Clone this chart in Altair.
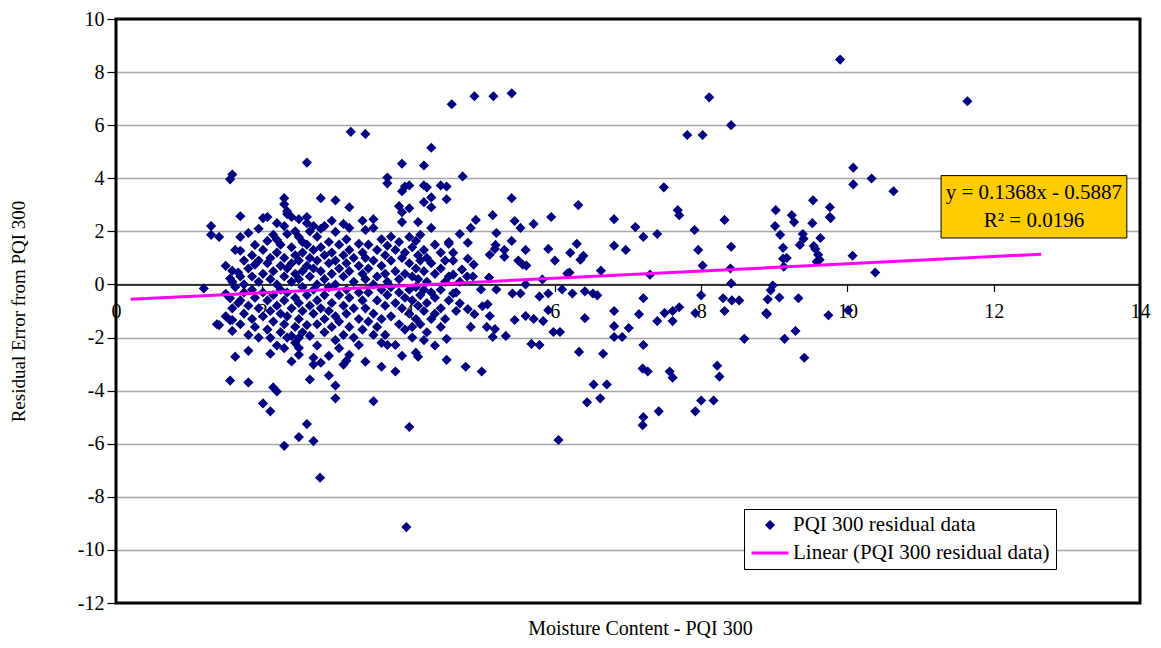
import altair as alt
import pandas as pd

# Residuals, grouped by moisture content
residuals_by_moisture = {
    1.20: [-0.15],
    1.30: [2.2, 1.87],
    1.38: [-1.5],
    1.41: [1.79, -1.53],
    1.50: [0.7, -0.35, -1.2],
    1.56: [3.96, 0.22, -0.52, -1.35, -3.62],
    1.59: [4.14, 0.52, 0.1, -0.9, -1.34, -1.75],
    1.63: [1.3, -0.1, -2.72],
    1.67: [0.45, -0.7],
    1.70: [2.57, 1.79, 1.27, 0.3, -0.6, -1.5],
    1.75: [0.9, 0.0, -0.3, -1.1],
    1.81: [1.94, 0.6, -0.8, -1.9, -2.5, -3.69],
    1.86: [1.1, 0.3, -0.2, -1.3],
    1.90: [1.49, 0.75, -0.5, -1.6],
    1.95: [2.1, 0.9, 0.1, -0.9, -2.0],
    2.01: [2.5, 1.3, 0.4, -0.3, -1.2, -4.48],
    2.07: [2.54, 1.64, 0.8, -0.6, -1.7],
    2.11: [1.0, 0.2, -1.0, -2.01, -2.61, -4.78],
    2.15: [1.87, 0.5, -0.4, -1.4, -3.88],
    2.20: [2.31, 1.68, 1.2, 0.0, -0.8, -2.3, -4.03],
    2.25: [1.5, 0.7, -0.2, -1.1, -1.8],
    2.30: [3.25, 3.02, 2.2, 1.0, 0.3, -0.6, -1.5, -2.4, -6.08],
    2.34: [2.76, 2.65, 1.9, 0.6, -0.3, -1.2, -2.0],
    2.40: [2.54, 1.4, 0.8, 0.1, -0.9, -1.94, -2.9],
    2.45: [2.0, 1.1, 0.4, -0.5, -1.6, -2.2],
    2.50: [2.46, 1.79, 0.9, 0.2, -0.7, -1.3, -2.01, -2.39, -2.65, -5.75],
    2.55: [1.6, 1.2, 0.5, -0.1, -1.0, -1.8],
    2.61: [4.59, 2.54, 2.31, 1.5, 0.7, -0.4, -1.53, -5.26],
    2.65: [2.0, 1.0, 0.3, -0.8, -1.94, -3.58],
    2.70: [2.2, 1.3, 0.6, -0.2, -1.1, -2.76, -3.02, -5.9],
    2.75: [1.8, 0.9, 0.0, -0.6, -1.5, -2.3],
    2.79: [-7.28],
    2.80: [3.25, 2.1, 1.4, 0.5, -0.9, -2.95],
    2.85: [2.2, 1.1, 0.2, -0.4, -1.3, -1.8],
    2.91: [1.6, 0.8, -0.1, -1.0, -2.69, -3.43],
    2.95: [2.4, 1.2, 0.4, -0.7, -1.6],
    3.00: [3.17, 1.98, 0.9, 0.0, -1.2, -2.1, -3.81, -4.29],
    3.05: [1.5, 0.6, -0.4, -1.4, -2.4],
    3.11: [2.28, 1.1, 0.3, -0.8, -1.9, -3.02],
    3.15: [1.7, 0.8, -0.2, -1.1, -2.87],
    3.19: [2.91, 2.13, 1.3, 0.5, -0.5, -1.6, -2.65],
    3.21: [5.75],
    3.25: [1.0, 0.1, -0.9, -2.0],
    3.32: [1.53, 0.7, -0.3, -1.3, -2.28],
    3.37: [2.4, 1.2, 0.4, -0.6, -1.7],
    3.41: [5.67, 2.05, 1.0, 0.2, -0.9, -2.91],
    3.45: [1.5, 0.6, -0.3, -1.4],
    3.52: [2.46, 2.13, 0.9, 0.0, -1.1, -1.9, -4.4],
    3.57: [1.3, 0.3, -0.6, -1.6],
    3.63: [1.7, 0.7, -0.2, -1.3, -2.2, -3.1],
    3.68: [1.1, 0.4, -0.8, -1.9],
    3.71: [4.03, 3.81, 1.46, 0.1, -0.4, -2.28],
    3.76: [1.8, 0.9, -0.1, -1.2],
    3.82: [1.3, 0.5, -0.7, -2.28, -3.28],
    3.87: [2.95, 1.6, 0.2, -0.3, -1.5],
    3.91: [4.55, 3.51, 2.72, 2.35, 1.0, -0.9, -2.69],
    3.95: [3.69, 1.2, 0.4, -0.5, -1.7],
    3.97: [-9.14],
    4.01: [3.73, 2.87, 1.79, 0.8, -0.2, -1.1, -5.37],
    4.05: [1.4, 0.3, -0.6, -1.6, -2.0],
    4.10: [1.64, 0.6, -0.1, -1.3, -2.57],
    4.13: [2.35, 1.1, 0.2, -0.8, -2.72],
    4.16: [1.87, 0.9, -0.4, -1.5],
    4.21: [4.48, 3.73, 3.1, 1.3, 0.5, -0.2, -1.0, -2.1],
    4.25: [3.66, 1.0, 0.1, -0.7, -1.8],
    4.31: [5.15, 3.28, 2.91, 2.13, 0.8, -0.3, -1.3],
    4.36: [1.5, 0.4, -0.5, -1.1, -2.3],
    4.44: [3.73, 1.2, 0.6, -0.2, -0.9, -1.6],
    4.50: [0.9, 0.1, -1.3],
    4.52: [3.69, 3.21, -2.05, -2.84],
    4.55: [1.53, 1.6, 0.3, -0.6],
    4.59: [6.79],
    4.61: [1.19, 0.9, 0.37, -0.34],
    4.65: [-1.0, -0.3],
    4.70: [1.9, -0.71, 0.1],
    4.73: [0.56],
    4.74: [4.07],
    4.78: [-3.1],
    4.80: [0.3],
    4.81: [1.57, 0.97, -0.93],
    4.85: [2.13, -1.6],
    4.88: [0.3],
    4.89: [0.75],
    4.90: [7.09, -1.12],
    4.92: [2.43],
    4.99: [-0.19],
    5.00: [-3.28],
    5.01: [-0.82],
    5.07: [-1.6],
    5.08: [-0.75],
    5.10: [0.26],
    5.11: [1.12, -1.19],
    5.15: [2.61, -1.98],
    5.16: [7.09],
    5.18: [1.34, -1.68],
    5.19: [1.49],
    5.20: [1.94, -0.19],
    5.31: [1.3, 1.04],
    5.33: [-1.94],
    5.41: [7.2, 3.25, 1.64],
    5.42: [-0.34],
    5.45: [2.39, -1.34],
    5.50: [0.9],
    5.53: [2.13, -0.34],
    5.56: [0.75],
    5.60: [1.3, 0.0, -1.19],
    5.61: [0.71],
    5.68: [-2.24],
    5.71: [2.28, -1.3],
    5.79: [-0.45, -2.28],
    5.83: [0.19],
    5.84: [-1.38],
    5.91: [1.34, -0.34, -0.97],
    5.95: [2.54],
    5.98: [-1.79],
    6.00: [0.9],
    6.05: [-5.86],
    6.07: [-1.79],
    6.10: [-0.19],
    6.17: [0.41],
    6.20: [0.45],
    6.21: [1.19],
    6.24: [-0.34],
    6.30: [1.53],
    6.32: [2.99],
    6.33: [-2.54],
    6.35: [0.93],
    6.39: [1.08],
    6.41: [-0.26, -1.27],
    6.44: [-4.44],
    6.52: [-0.34],
    6.53: [-3.77],
    6.58: [-0.41],
    6.62: [-4.29],
    6.63: [0.52],
    6.66: [-2.61],
    6.71: [-3.77],
    6.81: [2.46, 1.46, -1.0, -1.57, -1.98],
    6.92: [-1.98],
    6.97: [1.3],
    7.01: [-1.64],
    7.10: [2.16],
    7.15: [-1.12],
    7.20: [-3.17, -5.3],
    7.21: [1.79, -0.52, -2.28, -5.0],
    7.27: [-3.28],
    7.30: [0.37],
    7.40: [1.9, -1.38],
    7.42: [-4.78],
    7.49: [3.66],
    7.50: [-1.08],
    7.57: [-3.28],
    7.61: [-1.0, -1.38, -3.51],
    7.68: [2.8],
    7.70: [2.61, -0.86],
    7.81: [5.63],
    7.91: [2.05],
    7.92: [-1.08, -4.78],
    7.96: [1.3],
    8.00: [-0.41, -4.37],
    8.02: [5.63, 0.71],
    8.11: [7.05],
    8.17: [-4.37],
    8.22: [-3.06],
    8.25: [-3.47],
    8.30: [-0.52],
    8.32: [2.43, -1.0],
    8.40: [0.6],
    8.41: [6.0, 1.42, 0.04],
    8.42: [-0.6],
    8.52: [-0.6],
    8.59: [-2.05],
    8.89: [-1.08],
    8.90: [-1.12],
    8.91: [-0.56],
    8.95: [-0.22],
    8.98: [-0.04],
    9.01: [2.2],
    9.02: [2.8],
    9.07: [-0.49],
    9.08: [1.87],
    9.12: [1.38, 0.97],
    9.13: [0.67],
    9.14: [-2.05],
    9.17: [1.0],
    9.24: [2.61],
    9.27: [2.35],
    9.29: [-1.75],
    9.33: [-0.52],
    9.35: [1.49],
    9.39: [1.9],
    9.40: [1.72],
    9.41: [-2.76],
    9.52: [2.31],
    9.53: [3.17],
    9.54: [1.45],
    9.56: [1.34],
    9.58: [0.86],
    9.60: [1.12],
    9.62: [0.93],
    9.63: [1.75],
    9.74: [-1.16],
    9.76: [2.91, 2.54],
    9.77: [2.5],
    9.90: [8.47],
    10.01: [-0.97],
    10.07: [1.08],
    10.08: [4.4, 3.77],
    10.33: [3.99],
    10.38: [0.45],
    10.63: [3.51],
    11.64: [6.9],
}

series_names = ["PQI 300 residual data", "Linear (PQI 300 residual data)"]
series_colors = ["#000080", "#FF00FF"]

trend_slope = 0.1368
trend_intercept = -0.5887
trend_x = [0.2, 12.65]

equation_lines = ["y = 0.1368x - 0.5887", "R\u00b2 = 0.0196"]
equation_box_x = [11.28, 13.82]
equation_box_y = [4.10, 1.75]
equation_text_x = 12.55
equation_text_y = [3.43, 2.39]

x_ticks = [0, 2, 4, 6, 8, 10, 12, 14]
y_ticks = [-12, -10, -8, -6, -4, -2, 0, 2, 4, 6, 8, 10]

# ---- tables ----
points_df = pd.DataFrame(
    [
        {"moisture": m, "residual": r, "series": series_names[0]}
        for m, rs in residuals_by_moisture.items()
        for r in rs
    ]
)
trend_df = pd.DataFrame(
    {"moisture": trend_x, "residual": [trend_slope * v + trend_intercept for v in trend_x]}
)
box_df = pd.DataFrame(
    {
        "moisture": [equation_box_x[0]],
        "moisture2": [equation_box_x[1]],
        "residual": [equation_box_y[0]],
        "residual2": [equation_box_y[1]],
    }
)
text_df = pd.DataFrame(
    {"moisture": [equation_text_x] * 2, "residual": equation_text_y, "label": equation_lines}
)

FONT = "Liberation Serif"
W, H = 1024, 584
PAD_LEFT, PAD_TOP, PAD_RIGHT, PAD_BOTTOM = 108, 11, 13, 37
x_scale = alt.Scale(domain=[0, 14], nice=False, zero=False)
y_scale = alt.Scale(domain=[-12, 10], nice=False, zero=False)
zero_offset = -H * 12 / 22
zero_abs_y = 8 + PAD_TOP + H * 10 / 22

x_axis = alt.Axis(
    values=x_ticks, labelExpr="'' + datum.value", offset=zero_offset, grid=False,
    domain=True, domainColor="black", domainWidth=1.5,
    ticks=True, tickColor="black", tickSize=7, tickWidth=1.2,
    labelFont=FONT, labelFontSize=20, labelColor="black", labelPadding=10,
    labelFlush=False, labelOverlap=False,
    title="Moisture Content - PQI 300", titleFont=FONT, titleFontSize=20,
    titleFontWeight="normal", titleColor="black",
    titleX=524, titleY=628 - zero_abs_y, titleBaseline="middle",
)
y_axis = alt.Axis(
    values=y_ticks, labelExpr="'' + datum.value", grid=True, gridColor="#A6A6A6", gridWidth=1.5,
    domain=False, ticks=True, tickColor="black", tickSize=9, tickWidth=1.2,
    labelFont=FONT, labelFontSize=20, labelColor="black", labelPadding=3,
    labelFlush=False, labelOverlap=False,
    title="Residual Error from PQI 300", titleFont=FONT, titleFontSize=19,
    titleFontWeight="normal", titleColor="black",
    titleX=-98, titleY=H / 2, titleBaseline="middle", titleAngle=270,
)

DIAMOND = "M0,-0.16L0.16,0L0,0.16L-0.16,0Z"
STROKE_LINE = "M-1,0L1,0"

legend = alt.Legend(
    orient="none", legendX=628, legendY=490, title=None,
    fillColor="white", strokeColor="black", padding=6,
    clipHeight=20, rowPadding=7, symbolSize=1369, symbolStrokeWidth=3,
    symbolOpacity=1, labelFont=FONT, labelFontSize=21, labelColor="black",
    labelOffset=3, labelLimit=500,
)

points = alt.Chart(points_df).mark_point(
    filled=True, size=1369, strokeWidth=3, opacity=1
).encode(
    x=alt.X("moisture:Q", scale=x_scale, axis=x_axis),
    y=alt.Y("residual:Q", scale=y_scale, axis=y_axis),
    shape=alt.Shape("series:N", scale=alt.Scale(domain=series_names, range=[DIAMOND, STROKE_LINE]), legend=legend),
    fill=alt.Fill("series:N", scale=alt.Scale(domain=series_names, range=series_colors), legend=legend),
    stroke=alt.Stroke("series:N", scale=alt.Scale(domain=series_names, range=series_colors), legend=legend),
)

trend = alt.Chart(trend_df).mark_line(color="#FF00FF", strokeWidth=3).encode(
    x=alt.X("moisture:Q", scale=x_scale, axis=x_axis),
    y=alt.Y("residual:Q", scale=y_scale, axis=y_axis),
)

box = alt.Chart(box_df).mark_rect(fill="#FFCC00", stroke="black", strokeWidth=1).encode(
    x=alt.X("moisture:Q", scale=x_scale, axis=x_axis),
    x2="moisture2:Q",
    y=alt.Y("residual:Q", scale=y_scale, axis=y_axis),
    y2="residual2:Q",
)

eq_text = alt.Chart(text_df).mark_text(
    font=FONT, fontSize=21, color="black", align="center", baseline="middle"
).encode(
    x=alt.X("moisture:Q", scale=x_scale, axis=x_axis),
    y=alt.Y("residual:Q", scale=y_scale, axis=y_axis),
    text="label:N",
)

# plot-area frame (thick black border as in the reference)
frame = alt.Chart(box_df).mark_rect(fill="transparent", stroke="black", strokeWidth=3).encode(
    x=alt.value(0), x2=alt.value(W), y=alt.value(0), y2=alt.value(H)
)

chart = (
    alt.layer(points, trend, box, eq_text, frame)
    .properties(
        width=W, height=H, autosize="none",
        padding={"left": PAD_LEFT, "top": PAD_TOP, "right": PAD_RIGHT, "bottom": PAD_BOTTOM},
    )
    .configure(background="white", font=FONT)
    .configure_axis(labelFont=FONT, titleFont=FONT)
    .configure_legend(labelFont=FONT)
    .configure_view(stroke="transparent")
)

chart.save("out.html", embed_options={"renderer": "svg", "actions": False})
